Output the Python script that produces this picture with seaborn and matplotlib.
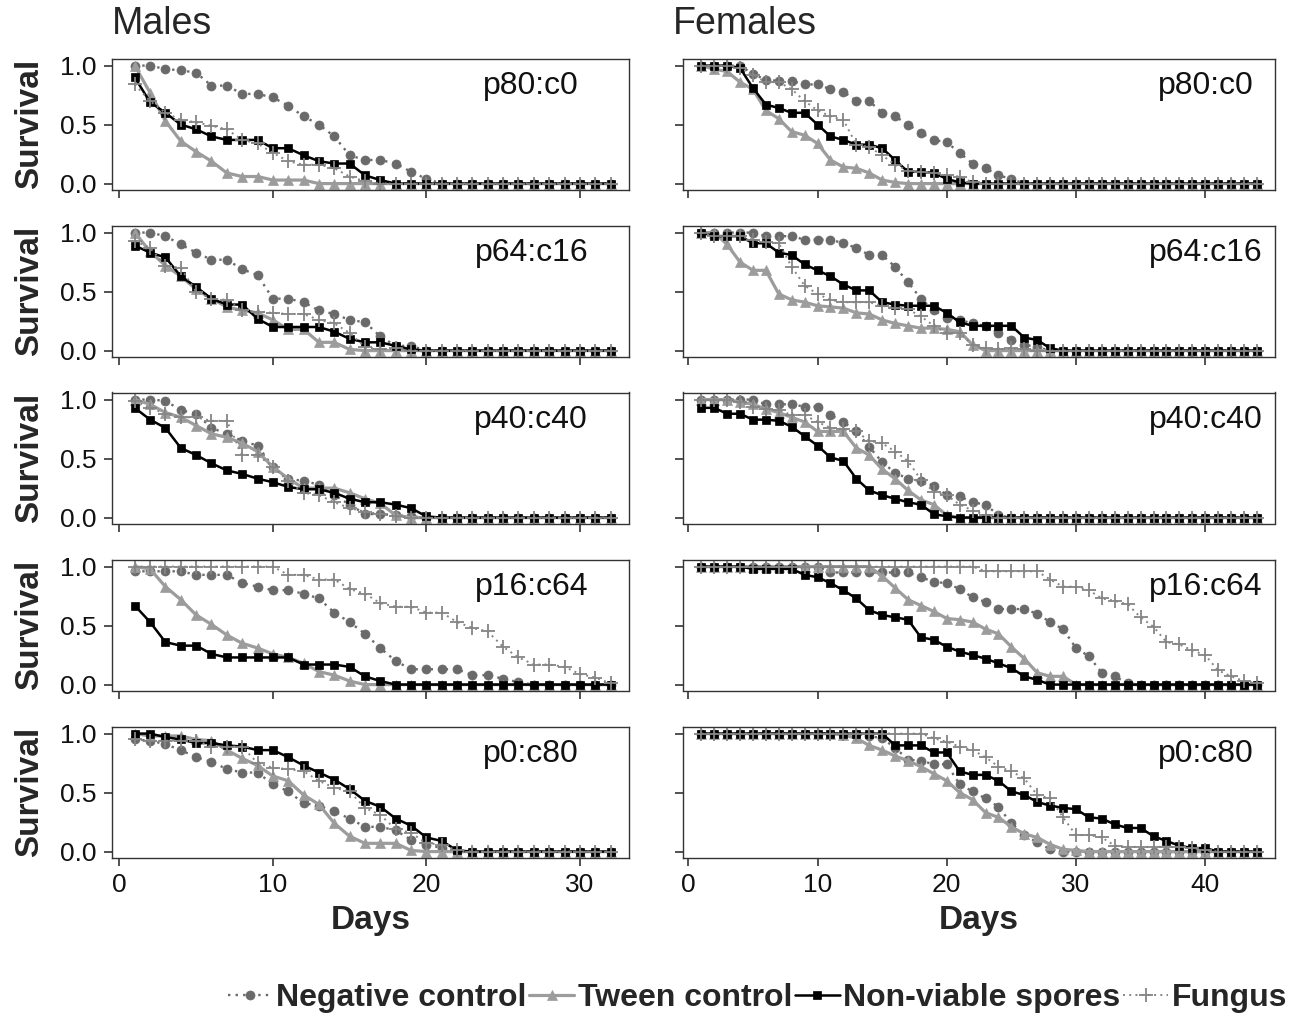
import numpy as np
import pandas as pd
import matplotlib
matplotlib.use("Agg")
import matplotlib.pyplot as plt
from matplotlib.lines import Line2D
import seaborn as sns

# ---------------- data ----------------
treatments = ["Negative control", "Tween control", "Non-viable spores", "Fungus"]
ratios = ["p80:c0", "p64:c16", "p40:c40", "p16:c64", "p0:c80"]
male_days = list(range(1, 33))
female_days = list(range(1, 45))

# Males (days 1..32)
M_p80_neg = [1.0, 1.0, 0.97, 0.96, 0.94, 0.83, 0.83, 0.76, 0.76, 0.73, 0.66, 0.57, 0.50, 0.40, 0.24, 0.20, 0.20, 0.17, 0.10, 0.04, 0, 0, 0, 0, 0, 0, 0, 0, 0, 0, 0, 0]
M_p80_tween = [1.0, 0.77, 0.53, 0.36, 0.27, 0.19, 0.09, 0.06, 0.06, 0.03, 0.03, 0.03, 0, 0, 0, 0, 0, 0, 0, 0, 0, 0, 0, 0, 0, 0, 0, 0, 0, 0, 0, 0]
M_p80_nvs = [0.90, 0.69, 0.60, 0.50, 0.46, 0.40, 0.37, 0.37, 0.37, 0.30, 0.30, 0.24, 0.19, 0.17, 0.17, 0.07, 0.03, 0, 0, 0, 0, 0, 0, 0, 0, 0, 0, 0, 0, 0, 0, 0]
M_p80_fun = [0.84, 0.70, 0.60, 0.54, 0.52, 0.49, 0.46, 0.37, 0.34, 0.26, 0.19, 0.16, 0.16, 0.13, 0.06, 0.02, 0, 0, 0, 0, 0, 0, 0, 0, 0, 0, 0, 0, 0, 0, 0, 0]

M_p64_neg = [1.0, 1.0, 0.97, 0.90, 0.83, 0.77, 0.77, 0.69, 0.64, 0.44, 0.44, 0.41, 0.34, 0.31, 0.26, 0.24, 0.12, 0.04, 0.04, 0, 0, 0, 0, 0, 0, 0, 0, 0, 0, 0, 0, 0]
M_p64_tween = [1.0, 0.84, 0.72, 0.63, 0.52, 0.44, 0.37, 0.34, 0.32, 0.26, 0.18, 0.18, 0.07, 0.07, 0.01, 0, 0, 0, 0, 0, 0, 0, 0, 0, 0, 0, 0, 0, 0, 0, 0, 0]
M_p64_nvs = [0.89, 0.83, 0.79, 0.63, 0.54, 0.44, 0.39, 0.39, 0.27, 0.20, 0.20, 0.20, 0.20, 0.16, 0.10, 0.07, 0.07, 0.04, 0.01, 0, 0, 0, 0, 0, 0, 0, 0, 0, 0, 0, 0, 0]
M_p64_fun = [0.93, 0.87, 0.72, 0.70, 0.50, 0.44, 0.43, 0.34, 0.33, 0.32, 0.31, 0.31, 0.26, 0.23, 0.15, 0.03, 0.01, 0.02, 0, 0, 0, 0, 0, 0, 0, 0, 0, 0, 0, 0, 0, 0]

M_p40_neg = [1.0, 1.0, 0.99, 0.91, 0.88, 0.76, 0.71, 0.65, 0.61, 0.43, 0.33, 0.31, 0.28, 0.19, 0.11, 0.03, 0.03, 0.02, 0.01, 0, 0, 0, 0, 0, 0, 0, 0, 0, 0, 0, 0, 0]
M_p40_tween = [1.0, 0.96, 0.89, 0.85, 0.78, 0.71, 0.68, 0.63, 0.56, 0.43, 0.33, 0.25, 0.25, 0.25, 0.21, 0.16, 0.12, 0.02, 0, 0, 0, 0, 0, 0, 0, 0, 0, 0, 0, 0, 0, 0]
M_p40_nvs = [0.93, 0.83, 0.76, 0.59, 0.53, 0.46, 0.40, 0.37, 0.33, 0.30, 0.26, 0.24, 0.24, 0.21, 0.16, 0.13, 0.13, 0.11, 0.08, 0.01, 0, 0, 0, 0, 0, 0, 0, 0, 0, 0, 0, 0]
M_p40_fun = [0.99, 0.93, 0.88, 0.85, 0.85, 0.82, 0.82, 0.53, 0.53, 0.43, 0.31, 0.21, 0.19, 0.13, 0.08, 0.05, 0.03, 0.01, 0, 0, 0, 0, 0, 0, 0, 0, 0, 0, 0, 0, 0, 0]

M_p16_neg = [0.96, 0.96, 0.96, 0.96, 0.93, 0.93, 0.93, 0.86, 0.83, 0.80, 0.80, 0.77, 0.73, 0.61, 0.53, 0.43, 0.31, 0.20, 0.13, 0.13, 0.13, 0.13, 0.08, 0.08, 0.05, 0.02, 0, 0, 0, 0, 0, 0]
M_p16_tween = [1.0, 0.98, 0.83, 0.72, 0.59, 0.51, 0.42, 0.35, 0.31, 0.26, 0.23, 0.18, 0.11, 0.08, 0.03, 0, 0, 0, 0, 0, 0, 0, 0, 0, 0, 0, 0, 0, 0, 0, 0, 0]
M_p16_nvs = [0.67, 0.53, 0.36, 0.33, 0.33, 0.26, 0.23, 0.23, 0.23, 0.23, 0.23, 0.17, 0.17, 0.17, 0.15, 0.07, 0.03, 0, 0, 0, 0, 0, 0, 0, 0, 0, 0, 0, 0, 0, 0, 0]
M_p16_fun = [1.0, 1.0, 1.0, 1.0, 1.0, 1.0, 1.0, 1.0, 1.0, 1.0, 0.93, 0.93, 0.89, 0.89, 0.81, 0.77, 0.69, 0.66, 0.66, 0.61, 0.61, 0.53, 0.48, 0.45, 0.32, 0.23, 0.17, 0.17, 0.15, 0.09, 0.06, 0.01]

M_p0_neg = [0.95, 0.94, 0.91, 0.86, 0.80, 0.76, 0.70, 0.67, 0.67, 0.57, 0.51, 0.41, 0.39, 0.34, 0.28, 0.21, 0.21, 0.18, 0.10, 0.06, 0.03, 0, 0, 0, 0, 0, 0, 0, 0, 0, 0, 0]
M_p0_tween = [1.0, 0.98, 0.98, 0.98, 0.95, 0.94, 0.86, 0.79, 0.73, 0.64, 0.60, 0.48, 0.40, 0.24, 0.13, 0.07, 0.07, 0.07, 0.01, 0, 0, 0, 0, 0, 0, 0, 0, 0, 0, 0, 0, 0]
M_p0_nvs = [1.0, 1.0, 0.97, 0.95, 0.92, 0.92, 0.90, 0.89, 0.86, 0.86, 0.80, 0.73, 0.67, 0.61, 0.53, 0.43, 0.38, 0.28, 0.22, 0.12, 0.09, 0.01, 0, 0, 0, 0, 0, 0, 0, 0, 0, 0]
M_p0_fun = [0.95, 0.94, 0.94, 0.94, 0.94, 0.89, 0.89, 0.89, 0.75, 0.71, 0.70, 0.68, 0.60, 0.54, 0.51, 0.37, 0.31, 0.19, 0.16, 0.07, 0.06, 0.01, 0, 0, 0, 0, 0, 0, 0, 0, 0, 0]

# Females (days 1..44)
F_p80_neg = [1, 1, 1, 1, 0.93, 0.88, 0.87, 0.87, 0.84, 0.84, 0.80, 0.78, 0.70, 0.70, 0.60, 0.57, 0.50, 0.43, 0.37, 0.35, 0.26, 0.17, 0.13, 0.07, 0.04, 0, 0, 0, 0, 0, 0, 0, 0, 0, 0, 0, 0, 0, 0, 0, 0, 0, 0, 0]
F_p80_tween = [1.0, 0.97, 0.95, 0.86, 0.80, 0.62, 0.55, 0.44, 0.41, 0.34, 0.20, 0.14, 0.13, 0.09, 0.03, 0.01, 0, 0, 0, 0, 0, 0, 0, 0, 0, 0, 0, 0, 0, 0, 0, 0, 0, 0, 0, 0, 0, 0, 0, 0, 0, 0, 0, 0]
F_p80_nvs = [1, 1, 1, 0.98, 0.81, 0.67, 0.64, 0.60, 0.60, 0.50, 0.40, 0.37, 0.33, 0.33, 0.30, 0.20, 0.10, 0.10, 0.09, 0.04, 0.01, 0, 0, 0, 0, 0, 0, 0, 0, 0, 0, 0, 0, 0, 0, 0, 0, 0, 0, 0, 0, 0, 0, 0]
F_p80_fun = [1, 1, 1, 0.98, 0.92, 0.86, 0.86, 0.80, 0.70, 0.62, 0.57, 0.54, 0.33, 0.31, 0.24, 0.16, 0.11, 0.10, 0.09, 0.07, 0.06, 0.01, 0, 0, 0, 0, 0, 0, 0, 0, 0, 0, 0, 0, 0, 0, 0, 0, 0, 0, 0, 0, 0, 0]

F_p64_neg = [1, 1, 1, 1, 1, 0.97, 0.97, 0.97, 0.94, 0.94, 0.94, 0.91, 0.87, 0.81, 0.81, 0.71, 0.58, 0.44, 0.34, 0.28, 0.26, 0.23, 0.21, 0.15, 0.09, 0.05, 0.03, 0, 0, 0, 0, 0, 0, 0, 0, 0, 0, 0, 0, 0, 0, 0, 0, 0]
F_p64_tween = [1, 1, 0.90, 0.75, 0.68, 0.68, 0.48, 0.43, 0.41, 0.38, 0.37, 0.36, 0.32, 0.31, 0.26, 0.23, 0.21, 0.19, 0.19, 0.18, 0.16, 0.05, 0, 0, 0, 0, 0, 0, 0, 0, 0, 0, 0, 0, 0, 0, 0, 0, 0, 0, 0, 0, 0, 0]
F_p64_nvs = [1, 0.97, 0.97, 0.97, 0.91, 0.91, 0.83, 0.81, 0.73, 0.68, 0.63, 0.56, 0.51, 0.51, 0.41, 0.39, 0.38, 0.38, 0.38, 0.32, 0.24, 0.21, 0.21, 0.21, 0.21, 0.11, 0.09, 0.02, 0, 0, 0, 0, 0, 0, 0, 0, 0, 0, 0, 0, 0, 0, 0, 0]
F_p64_fun = [1, 0.97, 0.97, 0.97, 0.94, 0.92, 0.91, 0.71, 0.55, 0.48, 0.43, 0.41, 0.41, 0.41, 0.38, 0.36, 0.35, 0.29, 0.21, 0.15, 0.15, 0.05, 0.02, 0.01, 0.02, 0.01, 0, 0, 0, 0, 0, 0, 0, 0, 0, 0, 0, 0, 0, 0, 0, 0, 0, 0]

F_p40_neg = [1, 1, 1, 1, 1, 0.96, 0.96, 0.96, 0.94, 0.94, 0.87, 0.81, 0.73, 0.60, 0.47, 0.38, 0.33, 0.31, 0.27, 0.19, 0.18, 0.13, 0.11, 0.02, 0, 0, 0, 0, 0, 0, 0, 0, 0, 0, 0, 0, 0, 0, 0, 0, 0, 0, 0, 0]
F_p40_tween = [1, 1, 1, 0.98, 0.96, 0.92, 0.89, 0.85, 0.81, 0.73, 0.73, 0.73, 0.59, 0.53, 0.41, 0.33, 0.23, 0.15, 0.11, 0.02, 0, 0, 0, 0, 0, 0, 0, 0, 0, 0, 0, 0, 0, 0, 0, 0, 0, 0, 0, 0, 0, 0, 0, 0]
F_p40_nvs = [0.93, 0.93, 0.88, 0.88, 0.83, 0.83, 0.82, 0.77, 0.69, 0.61, 0.51, 0.48, 0.33, 0.23, 0.19, 0.16, 0.13, 0.11, 0.03, 0.01, 0, 0, 0, 0, 0, 0, 0, 0, 0, 0, 0, 0, 0, 0, 0, 0, 0, 0, 0, 0, 0, 0, 0, 0]
F_p40_fun = [1, 1, 1, 0.98, 0.94, 0.92, 0.91, 0.87, 0.87, 0.81, 0.76, 0.75, 0.73, 0.65, 0.63, 0.56, 0.48, 0.32, 0.22, 0.19, 0.11, 0.06, 0.02, 0, 0, 0, 0, 0, 0, 0, 0, 0, 0, 0, 0, 0, 0, 0, 0, 0, 0, 0, 0, 0]

F_p16_neg = [1, 1, 1, 1, 1, 1, 1, 1, 1, 1, 0.95, 0.95, 0.95, 0.95, 0.95, 0.95, 0.95, 0.91, 0.87, 0.86, 0.81, 0.74, 0.70, 0.64, 0.64, 0.64, 0.60, 0.53, 0.47, 0.31, 0.24, 0.10, 0.07, 0.01, 0, 0, 0, 0, 0, 0, 0, 0, 0, 0]
F_p16_tween = [1, 1, 1, 1, 1, 1, 1, 1, 1, 1, 1, 1, 1, 1, 0.92, 0.82, 0.72, 0.67, 0.62, 0.56, 0.55, 0.53, 0.47, 0.43, 0.32, 0.22, 0.10, 0.07, 0.07, 0, 0, 0, 0, 0, 0, 0, 0, 0, 0, 0, 0, 0, 0, 0]
F_p16_nvs = [1, 1, 1, 1, 0.98, 0.98, 0.98, 0.98, 0.93, 0.91, 0.86, 0.80, 0.73, 0.63, 0.59, 0.57, 0.55, 0.40, 0.38, 0.32, 0.28, 0.25, 0.22, 0.18, 0.14, 0.07, 0.04, 0, 0, 0, 0, 0, 0, 0, 0, 0, 0, 0, 0, 0, 0, 0, 0, 0]
F_p16_fun = [1, 1, 1, 1, 1, 1, 1, 1, 1, 1, 1, 1, 1, 1, 1, 1, 1, 1, 1, 1, 1, 1, 0.96, 0.96, 0.96, 0.96, 0.96, 0.89, 0.83, 0.83, 0.80, 0.73, 0.71, 0.68, 0.57, 0.49, 0.36, 0.34, 0.29, 0.25, 0.12, 0.07, 0.03, 0.01]

F_p0_neg = [1, 1, 1, 1, 1, 1, 1, 1, 1, 1, 1, 1, 1, 0.98, 0.96, 0.88, 0.78, 0.77, 0.74, 0.74, 0.57, 0.51, 0.45, 0.38, 0.24, 0.14, 0.08, 0.02, 0, 0, 0, 0, 0, 0, 0, 0, 0, 0, 0, 0, 0, 0, 0, 0]
F_p0_tween = [1, 1, 1, 1, 1, 1, 1, 1, 1, 1, 1, 0.99, 0.96, 0.90, 0.86, 0.81, 0.77, 0.72, 0.66, 0.60, 0.50, 0.44, 0.33, 0.29, 0.21, 0.15, 0.12, 0.06, 0.02, 0.01, 0, 0, 0, 0, 0, 0, 0, 0, 0, 0, 0, 0, 0, 0]
F_p0_nvs = [1, 1, 1, 1, 1, 1, 1, 1, 1, 1, 1, 1, 1, 1, 1, 0.90, 0.90, 0.90, 0.84, 0.84, 0.68, 0.65, 0.65, 0.60, 0.51, 0.48, 0.42, 0.39, 0.37, 0.36, 0.29, 0.28, 0.23, 0.20, 0.20, 0.13, 0.09, 0.05, 0.03, 0.03, 0, 0, 0, 0]
F_p0_fun = [1, 1, 1, 1, 1, 1, 1, 1, 1, 1, 1, 1, 1, 1, 1, 1, 1, 1, 0.96, 0.93, 0.89, 0.86, 0.80, 0.72, 0.68, 0.62, 0.48, 0.45, 0.29, 0.14, 0.14, 0.12, 0.05, 0.04, 0.04, 0.04, 0.04, 0.04, 0.03, 0.01, 0, 0, 0, 0]

male_series = {
    "p80:c0": [M_p80_neg, M_p80_tween, M_p80_nvs, M_p80_fun],
    "p64:c16": [M_p64_neg, M_p64_tween, M_p64_nvs, M_p64_fun],
    "p40:c40": [M_p40_neg, M_p40_tween, M_p40_nvs, M_p40_fun],
    "p16:c64": [M_p16_neg, M_p16_tween, M_p16_nvs, M_p16_fun],
    "p0:c80": [M_p0_neg, M_p0_tween, M_p0_nvs, M_p0_fun],
}
female_series = {
    "p80:c0": [F_p80_neg, F_p80_tween, F_p80_nvs, F_p80_fun],
    "p64:c16": [F_p64_neg, F_p64_tween, F_p64_nvs, F_p64_fun],
    "p40:c40": [F_p40_neg, F_p40_tween, F_p40_nvs, F_p40_fun],
    "p16:c64": [F_p16_neg, F_p16_tween, F_p16_nvs, F_p16_fun],
    "p0:c80": [F_p0_neg, F_p0_tween, F_p0_nvs, F_p0_fun],
}

rows = []
for sex, series, days in [("Males", male_series, male_days), ("Females", female_series, female_days)]:
    for ratio in ratios:
        for trt, vals in zip(treatments, series[ratio]):
            for d, v in zip(days, vals):
                rows.append((sex, ratio, trt, d, v))
df = pd.DataFrame(rows, columns=["sex", "ratio", "treatment", "day", "survival"])

# ---------------- style ----------------
sns.set_theme(style="ticks")
plt.rcParams["font.family"] = ["Liberation Sans", "DejaVu Sans"]

NEG_C, TW_C, NV_C, FU_C = "#6a6a6a", "#9c9c9c", "#000000", "#858585"
styles = {
    "Negative control": dict(color=NEG_C, marker="o", markersize=6.5, linestyle=(0, (1, 2.2)),
                             linewidth=1.7, markeredgewidth=0.5, markeredgecolor=NEG_C,
                             markerfacecolor=NEG_C),
    "Tween control": dict(color=TW_C, marker="^", markersize=7, linestyle="-",
                          linewidth=2.3, markeredgewidth=0.5, markeredgecolor=TW_C,
                          markerfacecolor=TW_C),
    "Non-viable spores": dict(color=NV_C, marker="s", markersize=5.5, linestyle="-",
                              linewidth=1.8, markeredgewidth=0.5, markeredgecolor=NV_C,
                              markerfacecolor=NV_C),
    "Fungus": dict(color=FU_C, marker="+", markersize=10, linestyle=(0, (1, 2.2)),
                   linewidth=1.4, markeredgewidth=1.3, markeredgecolor=FU_C),
}

W, H = 1293, 1017
fig = plt.figure(figsize=(W / 100, H / 100), dpi=100)

cols = {"Males": (112, 517, (-0.48, 33.2), [0, 10, 20, 30]),
        "Females": (683, 592, (-0.41, 45.4), [0, 10, 20, 30, 40])}
row_h = 131
row_tops = [58.5 + 167 * i for i in range(5)]
label_x = {"Males": 0.811, "Females": 0.883}

for sex, (left, width, xlim, xticks) in cols.items():
    for i, ratio in enumerate(ratios):
        top = row_tops[i]
        ax = fig.add_axes([left / W, 1 - (top + row_h) / H, width / W, row_h / H])
        sub = df[(df.sex == sex) & (df.ratio == ratio)]
        for trt in treatments:
            s = sub[sub.treatment == trt]
            sns.lineplot(data=s, x="day", y="survival", ax=ax, errorbar=None,
                         legend=False, **styles[trt])
        ax.set_xlim(*xlim)
        ax.set_ylim(-0.05, 1.06)
        ax.set_xticks(xticks)
        ax.set_yticks([0, 0.5, 1.0])
        ax.set_xlabel("")
        ax.set_ylabel("")
        if sex == "Males":
            ax.set_yticklabels(["0.0", "0.5", "1.0"])
        else:
            ax.set_yticklabels([])
        if i == len(ratios) - 1:
            ax.set_xticklabels([str(t) for t in xticks])
        else:
            ax.set_xticklabels([])
        ax.tick_params(axis="both", direction="out", length=5.5, width=1.1,
                       labelsize=19, colors="#222222", labelcolor="#111111", pad=5.5)
        for sp in ax.spines.values():
            sp.set_visible(True)
            sp.set_color("#333333")
            sp.set_linewidth(1.0)
        ax.text(label_x[sex], 0.79, ratio, transform=ax.transAxes, ha="center",
                va="center", fontsize=23, color="#111111")
        if sex == "Males":
            fig.text(30 / W, 1 - (top + row_h / 2) / H, "Survival", rotation=90,
                     ha="center", va="center", fontsize=24, fontweight="bold")
    fig.text((left + width / 2) / W, 1 - 921 / H, "Days", ha="center", va="center",
             fontsize=24, fontweight="bold")

fig.text(112 / W, 1 - 24 / H, "Males", ha="left", va="center", fontsize=27)
fig.text(673 / W, 1 - 24 / H, "Females", ha="left", va="center", fontsize=27)

handles = [Line2D([0], [0], **styles[t]) for t in treatments]
fig.legend(handles, treatments, loc="center right", bbox_to_anchor=(1300 / W, 1 - 998 / H),
           ncol=4, frameon=False, prop={"weight": "bold", "size": 23},
           handlelength=1.4, handletextpad=0.12, columnspacing=0.08, borderaxespad=0)

fig.savefig("out.png", dpi=100)
